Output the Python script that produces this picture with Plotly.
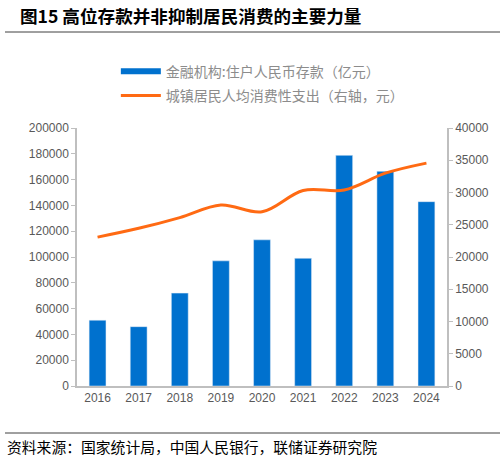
import plotly.graph_objects as go

years = ["2016", "2017", "2018", "2019", "2020", "2021", "2022", "2023", "2024"]
deposits = [51000, 46000, 72000, 97000, 113300, 99000, 178800, 166400, 142900]
consumption = [23079, 24445, 26112, 28063, 27007, 30307, 30391, 32994, 34557]
left_ticks = [0, 20000, 40000, 60000, 80000, 100000, 120000, 140000, 160000, 180000, 200000]
right_ticks = [0, 5000, 10000, 15000, 20000, 25000, 30000, 35000, 40000]

name_bar = "金融机构:住户人民币存款（亿元）"
name_line = "城镇居民人均消费性支出（右轴，元）"

BLUE = "#0071CE"
ORANGE = "#FF6A13"
AXIS = "#BFBFBF"
TICK = "#595959"
CJK = "Noto Sans CJK SC"
NUM = "Liberation Sans, Arial, sans-serif"

fig = go.Figure()
fig.add_trace(go.Bar(x=years, y=deposits, name=name_bar, marker_color=BLUE,
                     width=0.41, showlegend=False))
# legend proxy for the bar series (wide bar-shaped key)
fig.add_trace(go.Scatter(x=[None], y=[None], mode="lines", name=name_bar,
                         line=dict(color=BLUE, width=6), legendgroup="a"))
fig.add_trace(go.Scatter(x=years, y=consumption, name=name_line, yaxis="y2", legendgroup="b",
                         mode="lines", line=dict(color=ORANGE, width=3, shape="spline", smoothing=1)))

fig.update_layout(
    width=504, height=459,
    margin=dict(l=77, r=57, t=128, b=73, autoexpand=False),
    plot_bgcolor="white", paper_bgcolor="white",
    xaxis=dict(showline=True, linecolor=AXIS, linewidth=1.5, ticks="", showgrid=False,
               tickfont=dict(family=NUM, size=12, color=TICK)),
    yaxis=dict(range=[0, 200000], tickvals=left_ticks, tickformat="d", showline=True,
               linecolor=AXIS, linewidth=1.5,
               ticks="outside", ticklen=4, tickcolor=AXIS, showgrid=False, zeroline=False,
               tickfont=dict(family=NUM, size=12, color=TICK)),
    yaxis2=dict(range=[0, 40000], tickvals=right_ticks, tickformat="d", overlaying="y", side="right",
                showline=True, linecolor=AXIS, linewidth=1.5, ticks="outside", ticklen=4,
                tickcolor=AXIS, showgrid=False, zeroline=False,
                tickfont=dict(family=NUM, size=12, color=TICK)),
    legend=dict(x=0.105, y=1.28, xanchor="left", yanchor="top", bgcolor="rgba(0,0,0,0)",
                font=dict(family=CJK, size=14, color="#8C8C8C"), tracegroupgap=3,
                itemwidth=40),
    showlegend=True,
)

fig.add_annotation(xref="paper", yref="paper", x=(18 - 77) / 370, y=(459 - 16 - 73) / 258,
                   xanchor="left", yanchor="middle", showarrow=False,
                   text="<b>图15 高位存款并非抑制居民消费的主要力量</b>",
                   font=dict(family=CJK, size=17.6, color="black"))
fig.add_annotation(xref="paper", yref="paper", x=(5 - 77) / 370, y=(459 - 446 - 73) / 258,
                   xanchor="left", yanchor="middle", showarrow=False,
                   text="资料来源：国家统计局，中国人民银行，联储证券研究院",
                   font=dict(family=CJK, size=14.8, color="black"))
for yy in (32, 433):
    fig.add_shape(type="line", xref="paper", yref="paper",
                  x0=(5 - 77) / 370, x1=(500 - 77) / 370,
                  y0=(459 - yy - 73) / 258, y1=(459 - yy - 73) / 258,
                  line=dict(color="#404040", width=1))

fig.write_html("out.html", config={"displayModeBar": False},
               post_script="document.body.style.margin='0';document.body.style.overflow='hidden';")
